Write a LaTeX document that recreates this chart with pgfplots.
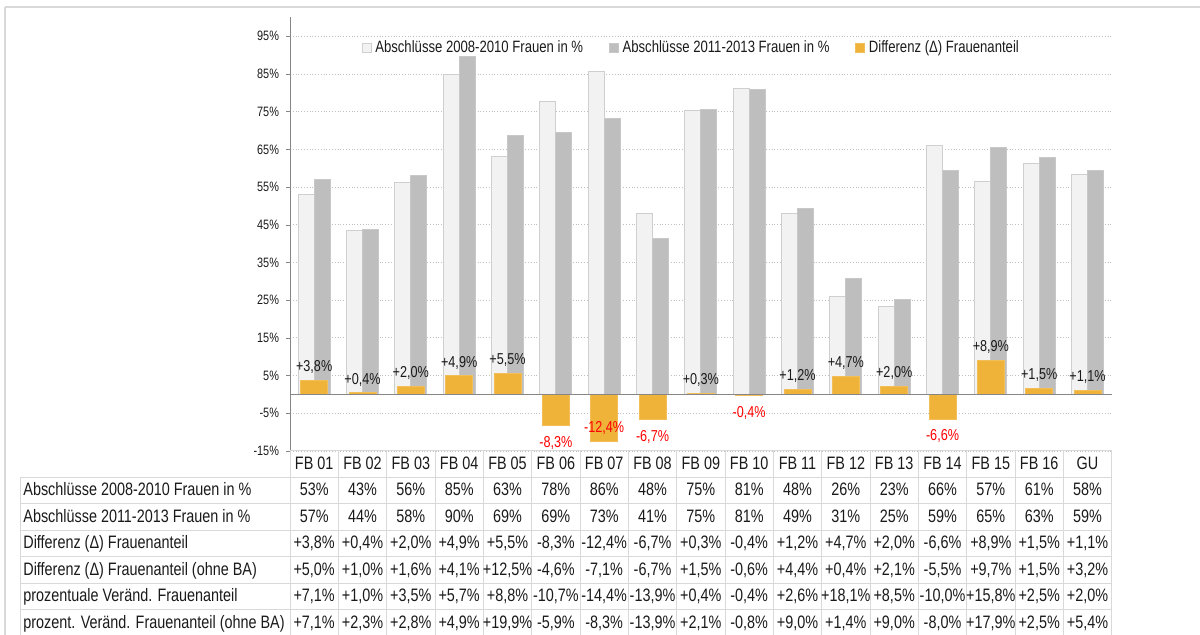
\documentclass[border=0pt]{standalone}
\usepackage{fontspec}
\setmainfont{Liberation Sans}[FakeStretch=0.8]
\usepackage{pgfplots}
\pgfplotsset{compat=1.18}
\definecolor{lightbar}{HTML}{F2F2F2}
\definecolor{lightedge}{HTML}{CFCFCF}
\definecolor{darkbar}{HTML}{BEBEBE}
\definecolor{orangebar}{HTML}{F0B33A}
\definecolor{gridc}{HTML}{C0C0C0}
\definecolor{axisc}{HTML}{868686}
\definecolor{tablec}{HTML}{D9D9D9}
\definecolor{txt}{HTML}{1A1A1A}
\newcommand\tickfont{\fontsize{6.8}{8}\selectfont}
\newcommand\legfont{\fontsize{8.2}{9}\selectfont}
\newcommand\barfont{\fontsize{7.9}{9}\selectfont}
\newcommand\tabfont{\fontsize{9}{10}\selectfont}
\begin{document}
\begin{tikzpicture}
\useasboundingbox (0,0) rectangle (600pt,317.5pt);
\begin{axis}[
  at={(145pt,92pt)}, anchor=south west,
  scale only axis, width=410.85pt, height=216.8pt,
  xmin=-0.5, xmax=16.5, ymin=-15, ymax=100,
  axis x line=none,
  axis y line*=left,
  axis line style={-, draw=axisc},
  xtick=\empty,
  ytick={-15,-5,5,15,25,35,45,55,65,75,85,95},
  yticklabel={\pgfmathprintnumber[assume math mode=true]{\tick}\%},
  yticklabel style={font=\tickfont, text=txt},
  tick align=outside, major tick length=2pt,
  tick style={draw=axisc},
  ymajorgrids, grid style={densely dotted, draw=gridc, line width=0.4pt},
  clip=false,
  legend columns=3,
  legend style={at={(0.0873,0.930)}, anchor=west, draw=none, fill=none,
    inner sep=0pt, outer sep=0pt,
    nodes={inner sep=0pt, text=txt, font=\legfont},
    /tikz/every even column/.append style={column sep=12.9pt},
    /tikz/every odd column/.append style={column sep=1.8pt}},
  legend image code/.code={\draw[#1] (0pt,-2.25pt) rectangle (4.5pt,2.25pt);},
  difflabel/.style={nodes near coords={\pgfmathprintnumber[assume math mode=true,fixed,fixed zerofill,precision=1,use comma,showpos]{\pgfplotspointmeta}\%}},
]
% Abschluesse 2008-2010
\addplot[ybar, bar width=8pt, bar shift=-4pt, fill=lightbar, draw=lightedge, line width=0.5pt]
  coordinates {(0,53.1) (1,43.4) (2,56.1) (3,84.8) (4,63.2) (5,77.7) (6,85.6) (7,48.0) (8,75.2)
               (9,81.2) (10,48.1) (11,26.0) (12,23.2) (13,65.9) (14,56.5) (15,61.3) (16,58.2)};
\addlegendentry{Abschlüsse 2008-2010 Frauen in \%}
% Abschluesse 2011-2013
\addplot[ybar, bar width=8pt, bar shift=4pt, fill=darkbar, draw=darkbar!85!white, line width=0.5pt]
  coordinates {(0,56.9) (1,43.8) (2,58.1) (3,89.7) (4,68.7) (5,69.4) (6,73.2) (7,41.3) (8,75.5)
               (9,80.8) (10,49.3) (11,30.7) (12,25.2) (13,59.3) (14,65.4) (15,62.8) (16,59.3)};
\addlegendentry{Abschlüsse 2011-2013 Frauen in \%}
% Differenz positive
\addplot[ybar, bar width=13.5pt, bar shift=0pt, fill=orangebar, draw=orangebar!85!white, line width=0.5pt,
  difflabel,
  every node near coord/.append style={font=\barfont, text=txt, anchor=south, inner sep=3.2pt}]
  coordinates {(0,3.8) (1,0.4) (2,2.0) (3,4.9) (4,5.5) (8,0.3) (10,1.2) (11,4.7) (12,2.0) (14,8.9) (15,1.5) (16,1.1)};
\addlegendentry{Differenz (Δ) Frauenanteil}
% Differenz negative, label below the bar
\addplot[ybar, forget plot, bar width=13.5pt, bar shift=0pt, fill=orangebar, draw=orangebar!85!white, line width=0.5pt,
  difflabel,
  every node near coord/.append style={font=\barfont, text=red, anchor=north, inner sep=5pt}]
  coordinates {(5,-8.3) (7,-6.7) (9,-0.4) (13,-6.6)};
% Differenz negative, label inside the bar end
\addplot[ybar, forget plot, bar width=13.5pt, bar shift=0pt, fill=orangebar, draw=orangebar!85!white, line width=0.5pt,
  difflabel,
  every node near coord/.append style={font=\barfont, text=red, anchor=south, inner sep=3pt}]
  coordinates {(6,-12.4)};
\draw[axisc, line width=0.6pt] (axis cs:-0.5,0) -- (axis cs:16.5,0);
\end{axis}
% frame and data table
\begin{scope}[x=0.5pt, y=-0.5pt, shift={(0pt,317.5pt)}, every node/.style={inner sep=0pt, text=txt, font=\tabfont}]
  \draw[tablec, line width=0.6pt] (5,7) -- (1205,7);
  \draw[tablec, line width=0.6pt] (5,7) -- (5,640);
  \draw[tablec, line width=0.5pt] (290,451) -- (1111.7,451);
  \foreach \yy in {477.3,503.8,530.3,556.8,583.3,609.8} {
    \draw[tablec, line width=0.5pt] (20,\yy) -- (1111.7,\yy);
  }
  \draw[tablec, line width=0.5pt] (20,477.3) -- (20,640);
  \foreach \k in {0,...,17} {
    \draw[tablec, line width=0.5pt] ({290+48.335*\k},451) -- ({290+48.335*\k},640);
  }
  \node[anchor=mid west] at (23,490.5) {Abschlüsse 2008-2010 Frauen in \%};
  \node[anchor=mid west] at (23,517.0) {Abschlüsse 2011-2013 Frauen in \%};
  \node[anchor=mid west] at (23,543.5) {Differenz (Δ) Frauenanteil};
  \node[anchor=mid west] at (23,570.0) {Differenz (Δ) Frauenanteil (ohne BA)};
  \node[anchor=mid west] at (23,596.5) {prozentuale Veränd. Frauenanteil};
  \node[anchor=mid west] at (23,623.0) {prozent. Veränd. Frauenanteil (ohne BA)};
  \foreach \v [count=\i from 0] in {FB 01,FB 02,FB 03,FB 04,FB 05,FB 06,FB 07,FB 08,FB 09,FB 10,FB 11,FB 12,FB 13,FB 14,FB 15,FB 16,GU}
    \node[anchor=mid] at ({290+48.335*(\i+0.5)},464.2) {\v};
  \foreach \v [count=\i from 0] in {53,43,56,85,63,78,86,48,75,81,48,26,23,66,57,61,58}
    \node[anchor=mid] at ({290+48.335*(\i+0.5)},490.5) {\v\%};
  \foreach \v [count=\i from 0] in {57,44,58,90,69,69,73,41,75,81,49,31,25,59,65,63,59}
    \node[anchor=mid] at ({290+48.335*(\i+0.5)},517.0) {\v\%};
  \foreach \v [count=\i from 0] in {{+3,8},{+0,4},{+2,0},{+4,9},{+5,5},{-8,3},{-12,4},{-6,7},{+0,3},{-0,4},{+1,2},{+4,7},{+2,0},{-6,6},{+8,9},{+1,5},{+1,1}}
    \node[anchor=mid] at ({290+48.335*(\i+0.5)},543.5) {\v\%};
  \foreach \v [count=\i from 0] in {{+5,0},{+1,0},{+1,6},{+4,1},{+12,5},{-4,6},{-7,1},{-6,7},{+1,5},{-0,6},{+4,4},{+0,4},{+2,1},{-5,5},{+9,7},{+1,5},{+3,2}}
    \node[anchor=mid] at ({290+48.335*(\i+0.5)},570.0) {\v\%};
  \foreach \v [count=\i from 0] in {{+7,1},{+1,0},{+3,5},{+5,7},{+8,8},{-10,7},{-14,4},{-13,9},{+0,4},{-0,4},{+2,6},{+18,1},{+8,5},{-10,0},{+15,8},{+2,5},{+2,0}}
    \node[anchor=mid] at ({290+48.335*(\i+0.5)},596.5) {\v\%};
  \foreach \v [count=\i from 0] in {{+7,1},{+2,3},{+2,8},{+4,9},{+19,9},{-5,9},{-8,3},{-13,9},{+2,1},{-0,8},{+9,0},{+1,4},{+9,0},{-8,0},{+17,9},{+2,5},{+5,4}}
    \node[anchor=mid] at ({290+48.335*(\i+0.5)},623.0) {\v\%};
\end{scope}
\end{tikzpicture}
\end{document}
